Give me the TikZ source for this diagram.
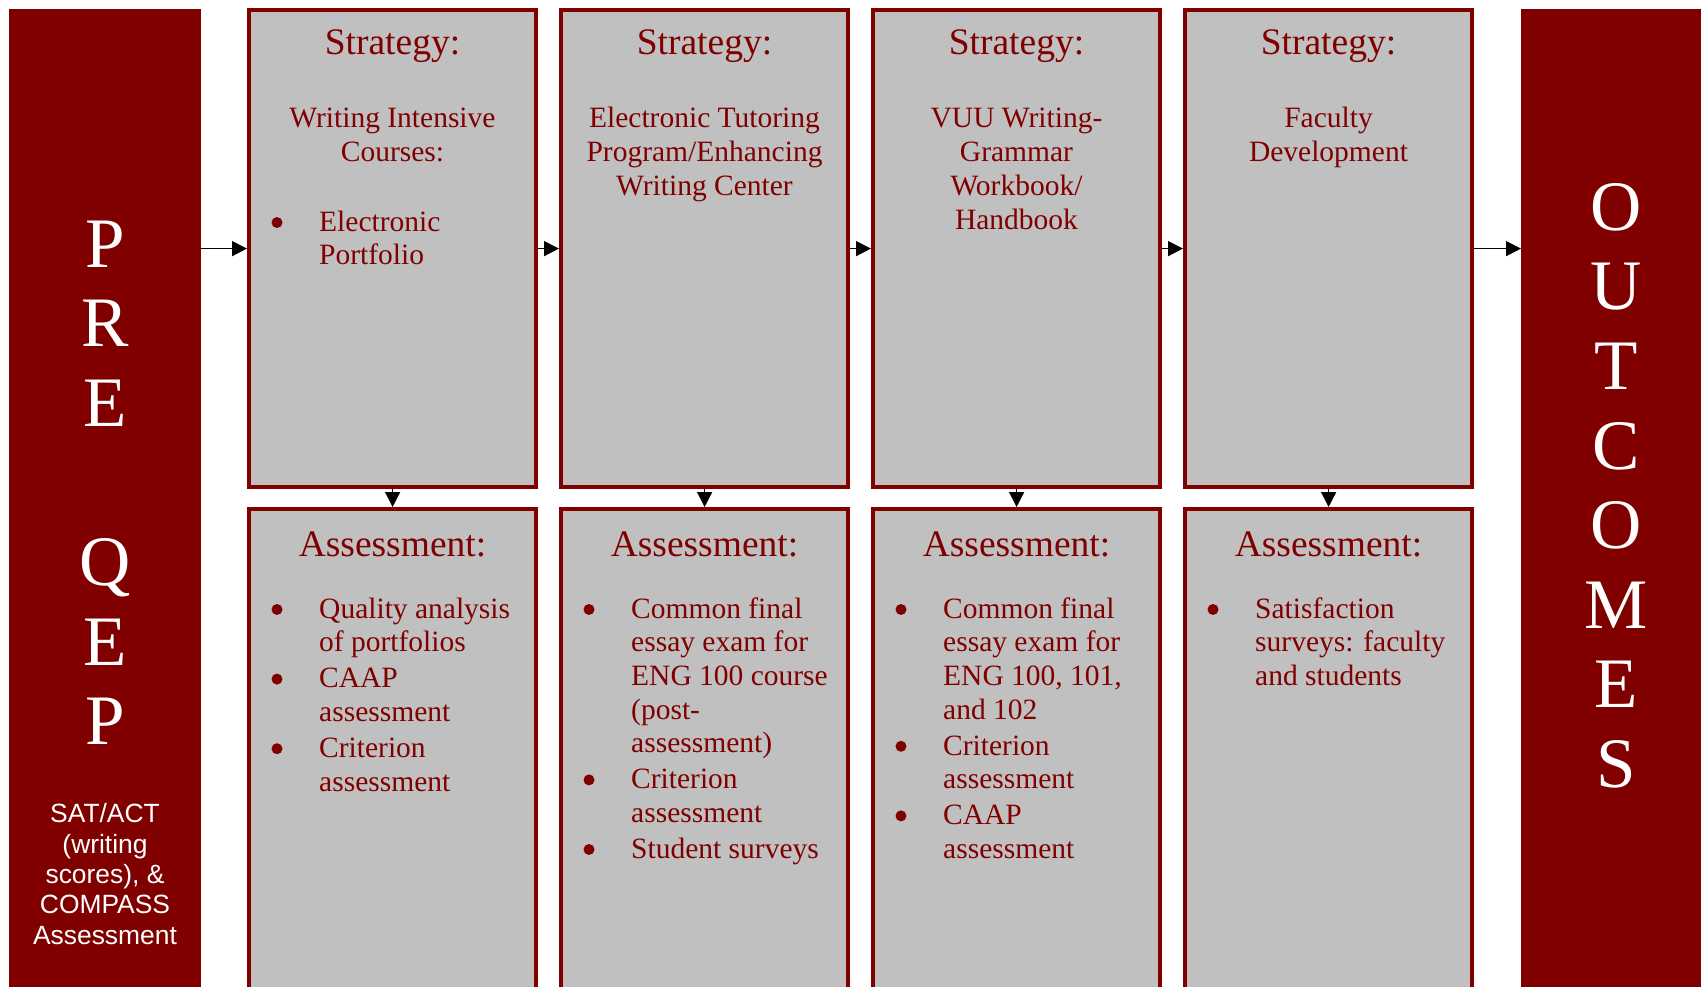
\documentclass[tikz,border=0pt]{standalone}
\usepackage{fontspec}
\setmainfont{Liberation Serif}
\newfontfamily\arialish{Liberation Sans}
\usetikzlibrary{arrows.meta}
\definecolor{qred}{RGB}{128,0,0}
\definecolor{qgray}{RGB}{192,192,192}
\newcommand\fsz[2]{\fontsize{#1}{#2}\selectfont}
\tikzset{
  block/.style={fill=qred, draw=none, inner sep=0, outer sep=0, anchor=north west},
  qbox/.style={draw=qred, line width=4.2pt, fill=qgray, inner sep=0, anchor=north west, minimum width=287pt},
  stratbox/.style={qbox, minimum height=477pt},
  assessbox/.style={qbox, minimum height=487pt},
  head/.style={inner sep=0, text=qred, anchor=base, font={\fsz{37.5pt}{43pt}}},
  title/.style={inner sep=0, text=qred, anchor=north, align=center, font={\fsz{29.5pt}{34pt}}},
  blist/.style={inner sep=0, text=qred, anchor=north west, align=left, font={\fsz{29.5pt}{33.6pt}}},
  bigletters/.style={inner sep=0, text=white, anchor=north, align=center, font={\fsz{71pt}{79.6pt}}},
  arr/.style={draw=black, line width=1.4pt, -{Triangle[length=15pt,width=15pt]}},
  dot/.style={fill=qred}
}
\begin{document}
\begin{tikzpicture}[x=1pt,y=-1pt]
\useasboundingbox (0,0) rectangle (1701,987);
\clip (0,0) rectangle (1701,987);
% side blocks
\node[block, minimum width=192pt, minimum height=1000pt] (pre) at (9,9) {};
\node[block, minimum width=200pt, minimum height=1000pt] (out) at (1521,9) {};
% strategy boxes
\node[stratbox] (s1) at (247,8) {};
\node[stratbox] (s2) at (559,8) {};
\node[stratbox] (s3) at (871,8) {};
\node[stratbox] (s4) at (1183,8) {};
% assessment boxes
\node[assessbox] (a1) at (247,507) {};
\node[assessbox] (a2) at (559,507) {};
\node[assessbox] (a3) at (871,507) {};
\node[assessbox] (a4) at (1183,507) {};
% arrows
\draw[arr] (pre.east |- s1.west) -- (s1.west);
\draw[arr] (s1.east) -- (s2.west);
\draw[arr] (s2.east) -- (s3.west);
\draw[arr] (s3.east) -- (s4.west);
\draw[arr] (s4.east) -- (out.west |- s4.east);
\draw[arr] (s1.south) -- (a1.north);
\draw[arr] (s2.south) -- (a2.north);
\draw[arr] (s3.south) -- (a3.north);
\draw[arr] (s4.south) -- (a4.north);
% side texts
\node[bigletters] (preqep) at (105,196) {\rule{0pt}{71pt}P\\R\\E\\[79.6pt]Q\\E\\P};
\node[inner sep=0, text=white, anchor=north, align=center, font={\arialish\fsz{26.4pt}{30.4pt}}] (sat) at (105,796) {\rule{0pt}{26.4pt}SAT/ACT\\(writing\\scores), \&\\COMPASS\\Assessment};
\node[bigletters] (outtxt) at (1616,159) {\rule{0pt}{71pt}O\\U\\T\\C\\O\\M\\E\\S};
% strategy texts
\node[head] (sh1) at (392.5,55) {Strategy:};
\node[head] (sh2) at (704.5,55) {Strategy:};
\node[head] (sh3) at (1016.5,55) {Strategy:};
\node[head] (sh4) at (1328.5,55) {Strategy:};
\node[title] (st1) at (392.5,97.5) {\rule{0pt}{29.5pt}Writing Intensive\\Courses:};
\node[blist] (sb1) at (319,201.5) {\rule{0pt}{29.5pt}Electronic\\Portfolio};
\node[title] (st2) at (704.5,97.5) {\rule{0pt}{29.5pt}Electronic Tutoring\\Program/Enhancing\\Writing Center};
\node[title] (st3) at (1016.5,97.5) {\rule{0pt}{29.5pt}VUU Writing-\\Grammar\\Workbook/\\Handbook};
\node[title] (st4) at (1328.5,97.5) {\rule{0pt}{29.5pt}Faculty\\Development};
% assessment texts
\node[head] (ah1) at (392.5,556) {Assessment:};
\node[head] (ah2) at (704.5,556) {Assessment:};
\node[head] (ah3) at (1016.5,556) {Assessment:};
\node[head] (ah4) at (1328.5,556) {Assessment:};
\node[blist] (ab1) at (319,588.5) {\rule{0pt}{29.5pt}Quality analysis\\of portfolios\\[2.4pt]CAAP\\assessment\\[2.4pt]Criterion\\assessment};
\node[blist] (ab2) at (631,588.5) {\rule{0pt}{29.5pt}Common final\\essay exam for\\ENG 100 course\\(post-\\assessment)\\[2.4pt]Criterion\\assessment\\[2.4pt]Student surveys};
\node[blist] (ab3) at (943,588.5) {\rule{0pt}{29.5pt}Common final\\essay exam for\\ENG 100, 101,\\and 102\\[2.4pt]Criterion\\assessment\\[2.4pt]CAAP\\assessment};
\node[blist] (ab4) at (1255,588.5) {\rule{0pt}{29.5pt}Satisfaction\\surveys: faculty\\and students};
% bullets
\fill[dot] (277,222.5) circle (5.5);
\fill[dot] (277,609.5) circle (5.5);
\fill[dot] (277,679.1) circle (5.5);
\fill[dot] (277,748.7) circle (5.5);
\fill[dot] (589,609.5) circle (5.5);
\fill[dot] (589,779.9) circle (5.5);
\fill[dot] (589,849.5) circle (5.5);
\fill[dot] (901,609.5) circle (5.5);
\fill[dot] (901,746.3) circle (5.5);
\fill[dot] (901,815.9) circle (5.5);
\fill[dot] (1213,609.5) circle (5.5);
\end{tikzpicture}
\end{document}
